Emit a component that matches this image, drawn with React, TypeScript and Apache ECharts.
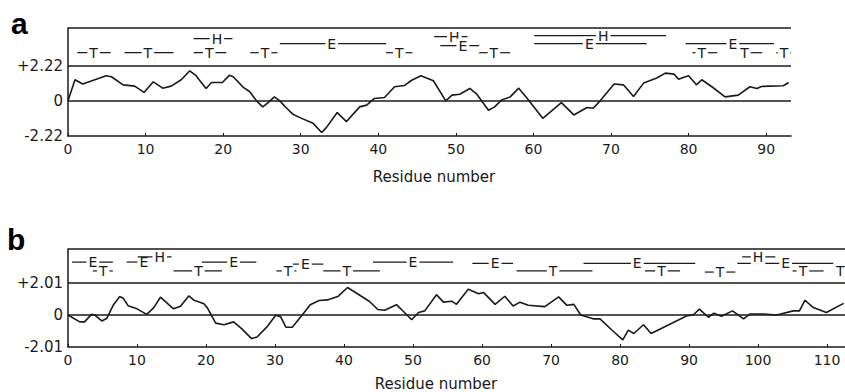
import React, { useEffect, useRef } from "react";
import * as echarts from "echarts";

// ---------- Panel a ----------
const resA = [0, 0.9, 1.9, 4.1, 4.9, 5.6, 7.1, 8.6, 9.8, 11,
  12.2, 13.3, 14.6, 15.7, 16.5, 17.8, 18.5, 19.9, 20.8, 21.3,
  22.6, 23.4, 24.3, 25.1, 25.8, 26.6, 27.3, 28.1, 29, 29.9,
  31.6, 32.7, 33.3, 34.7, 35.9, 37.6, 38.5, 39.5, 40.8, 42.1,
  43.4, 44.3, 45.5, 47.1, 48.7, 49.5, 50.5, 51.8, 52.7, 54.2,
  55, 55.9, 57, 58.1, 59.1, 61.2, 63.6, 65.2, 66.9, 67.7,
  68.6, 70.4, 71.6, 72.9, 74.2, 75.9, 77, 78.1, 78.7, 79.3,
  80, 81, 81.7, 83, 84.7, 86.4, 87.9, 88.8, 89.4, 92.2,
  92.9];
const hydA = [0, 1.33, 1.06, 1.44, 1.59, 1.52, 1.01, 0.93, 0.53, 1.2,
  0.8, 0.93, 1.33, 1.9, 1.59, 0.78, 1.16, 1.16, 1.61, 1.52,
  0.85, 0.59, 0, -0.38, -0.11, 0.25, 0, -0.42, -0.85, -1.06,
  -1.42, -2.0, -1.69, -0.74, -1.31, -0.38, -0.27, 0.15, 0.21, 0.89,
  0.97, 1.3, 1.59, 1.27, 0, 0.36, 0.42, 0.78, 0.42, -0.59,
  -0.38, 0.06, 0.25, 0.8, 0.21, -1.1, -0.11, -0.89, -0.42, -0.47,
  0, 1.06, 1.01, 0.27, 1.12, 1.44, 1.75, 1.69, 1.37, 1.48,
  1.59, 1.01, 1.33, 0.89, 0.25, 0.36, 0.89, 0.78, 0.91, 0.95,
  1.16];
const xTicksA = [0, 10, 20, 30, 40, 50, 60, 70, 80, 90];
const yTicksA = [-2.22, 0, 2.22];

// secondary structure segments, panel a
const segLetterA = ["T", "T", "T", "H", "T", "E", "T", "H", "E", "T", "H", "E", "E", "T", "T", "T"];
const segStartA = [1.2, 7.3, 16.2, 16.2, 23.5, 27.3, 41, 47.2, 48, 53, 60.1, 60.1, 79.6, 80.5, 86.5, 91.3];
const segEndA = [5.5, 13.6, 20.4, 21.2, 27, 41, 44.4, 51.5, 53, 57, 77.1, 74.6, 91, 83.7, 89.5, 93.2];
const segRowA = [3.04, 3.04, 3.04, 3.93, 3.04, 3.61, 3.04, 4.05, 3.49, 3.04, 4.12, 3.61, 3.61, 3.04, 3.04, 3.04];
const segMarkA = [3.3, 10.3, 18.2, 19.2, 25.4, 34, 42.7, 49.8, 50.9, 54.9, 69, 67.2, 85.7, 81.7, 87.2, 92.3];

// ---------- Panel b ----------
const resB = [0, 1.7, 2.4, 3.4, 3.9, 4.9, 5.6, 6.6, 7.5, 8,
  8.7, 10, 11.4, 12.4, 13.4, 14.6, 15.3, 16.3, 17.5, 18.2,
  19.7, 20.2, 21.4, 22.6, 24, 25.2, 26.6, 27.4, 28.9, 30.1,
  30.8, 31.6, 32.5, 34, 35.1, 36.4, 37.6, 39.1, 40.5, 42,
  43.7, 44.9, 45.9, 47.6, 48.8, 49.8, 50.8, 51.7, 53.4, 54.4,
  55.6, 56.3, 58, 59.5, 60.2, 61.9, 63.3, 64.5, 65.5, 66.7,
  69.1, 71.1, 72.3, 73.3, 74.3, 76.1, 77.1, 79, 80.4, 81.2,
  82, 83.4, 84.5, 89.7, 90.6, 91.5, 92.8, 93.6, 94.7, 96.3,
  97.9, 98.8, 100.8, 102.7, 105.1, 106, 106.8, 108, 109.9, 112.4];
const hydB = [0, -0.43, -0.43, 0.04, 0, -0.37, -0.22, 0.65, 1.16, 1.06,
  0.59, 0.39, 0.04, 0.45, 1.12, 0.65, 0.39, 0.55, 1.2, 0.95,
  0.71, 0.45, -0.51, -0.61, -0.43, -0.87, -1.48, -1.38, -0.71, -0.02,
  -0.1, -0.77, -0.77, 0.04, 0.65, 0.91, 0.95, 1.16, 1.73, 1.32,
  0.85, 0.35, 0.3, 0.65, 0.14, -0.3, 0.16, 0.26, 1.28, 0.81,
  0.87, 0.67, 1.62, 1.34, 1.42, 0.67, 1.18, 0.57, 0.81, 0.61,
  0.53, 1.14, 0.61, 0.67, 0, -0.24, -0.24, -1.02, -1.56, -0.95,
  -1.16, -0.61, -1.16, -0.04, 0, 0.37, -0.14, 0.12, -0.08, 0.26,
  -0.24, 0.06, 0.06, 0, 0.26, 0.26, 0.93, 0.47, 0.16, 0.73];
const xTicksB = [0, 10, 20, 30, 40, 50, 60, 70, 80, 90, 100, 110];
const yTicksB = [-2.01, 0, 2.01];

const segLetterB = ["E", "T", "E", "H", "T", "E", "T", "E", "T", "E", "E", "T", "E", "T", "T", "E", "H", "T", "T"];
const segStartB = [0.6, 3.6, 8.5, 10.1, 15.3, 19.4, 30.2, 32.6, 37, 44.2, 58.6, 65, 74.7, 83.6, 92.3, 97, 97.7, 105, 111.2];
const segEndB = [6.5, 6.5, 11.9, 15, 22.3, 27.3, 33.1, 37, 45.2, 55.8, 64.5, 76, 90.9, 88.7, 96.7, 110.9, 102.5, 109.5, 112.6];
const segRowB = [3.33, 2.77, 3.33, 3.65, 2.77, 3.33, 2.77, 3.2, 2.77, 3.33, 3.25, 2.77, 3.25, 2.77, 2.7, 3.25, 3.65, 2.77, 2.77];
const segMarkB = [3.6, 5.1, 11, 13.3, 18.9, 24, 31.9, 34.4, 40.4, 50, 61.9, 70.3, 82.5, 86, 94.5, 104, 100, 106.5, 111.9];

const INK = "#1a1a1a";
const FONT = "DejaVu Sans";

function segSeries(idx: number, letters: string[], s: number[], e: number[], r: number[], m: number[]) {
  return {
    type: "custom",
    xAxisIndex: idx,
    yAxisIndex: idx,
    silent: true,
    clip: false,
    data: s.map((v, i) => [v, e[i], r[i], m[i]]),
    encode: { x: [0, 1, 3], y: 2 },
    renderItem: (params: any, api: any) => {
      const a = api.coord([api.value(0), api.value(2)]);
      const b = api.coord([api.value(1), api.value(2)]);
      const c = api.coord([api.value(3), api.value(2)]);
      return {
        type: "group",
        children: [
          {
            type: "line",
            shape: { x1: a[0], y1: a[1], x2: b[0], y2: b[1] },
            style: { stroke: INK, lineWidth: 1.2 },
          },
          {
            type: "text",
            x: c[0],
            y: c[1],
            style: {
              text: letters[params.dataIndex],
              fill: INK,
              stroke: "none",
              lineWidth: 0,
              fontSize: 14,
              fontFamily: FONT,
              align: "center",
              verticalAlign: "middle",
              backgroundColor: "#fff",
              padding: [0, 2],
            },
          },
        ],
      };
    },
  };
}

function yFmt(v: number) {
  if (Math.abs(v) < 1e-9) return "0";
  return v > 0 ? "+" + v.toFixed(2) : v.toFixed(2);
}

export default function App() {
  const ref = useRef<HTMLDivElement>(null);
  useEffect(() => {
    if (!ref.current) return;
    const chart = echarts.init(ref.current, undefined, { renderer: "svg" });
    const axisLineStyle = { color: INK, width: 1.5 };
    const xAxisBase = (gi: number, max: number, ticks: number[]) => ({
      gridIndex: gi,
      type: "value",
      min: 0,
      max,
      axisLine: { show: true, onZero: false, lineStyle: axisLineStyle },
      axisTick: { show: true, inside: true, length: 3, customValues: ticks, lineStyle: { color: INK } },
      axisLabel: { customValues: ticks, color: INK, fontSize: 14, fontFamily: FONT, margin: 6 },
      splitLine: { show: false },
    });
    const yAxisBase = (gi: number, min: number, max: number, ticks: number[]) => ({
      gridIndex: gi,
      type: "value",
      min,
      max,
      axisLine: { show: true, onZero: false, lineStyle: axisLineStyle },
      axisTick: { show: false },
      axisLabel: { customValues: ticks, color: INK, fontSize: 15, fontFamily: FONT, margin: 5, formatter: yFmt },
      splitLine: { show: false },
    });
    const refLines = (vals: number[]) => ({
      silent: true,
      symbol: ["none", "none"],
      label: { show: false },
      lineStyle: { color: INK, width: 1.5, type: "solid" },
      data: vals.map((v) => ({ yAxis: v })),
    });
    const maxA = 4.6;
    const maxB = 4.15;
    chart.setOption({
      animation: false,
      backgroundColor: "#fff",
      grid: [
        { left: 68, top: 28, width: 723, height: 108 },
        { left: 68, top: 249, width: 777, height: 98 },
      ],
      xAxis: [xAxisBase(0, 93.2, xTicksA), xAxisBase(1, 112.6, xTicksB)],
      yAxis: [yAxisBase(0, -2.22, maxA, yTicksA), yAxisBase(1, -2.01, maxB, yTicksB)],
      graphic: [
        { type: "text", left: 11, top: 8, style: { text: "a", fontSize: 30, fontWeight: "bold", fontFamily: "Liberation Sans", fill: "#000" } },
        { type: "text", left: 7, top: 224, style: { text: "b", fontSize: 30, fontWeight: "bold", fontFamily: "Liberation Sans", fill: "#000" } },
        { type: "text", x: 434, y: 177, style: { text: "Residue number", fontSize: 15, fontFamily: FONT, fill: INK, align: "center", verticalAlign: "middle" } },
        { type: "text", x: 436, y: 384, style: { text: "Residue number", fontSize: 15, fontFamily: FONT, fill: INK, align: "center", verticalAlign: "middle" } },
      ],
      series: [
        {
          type: "line",
          xAxisIndex: 0,
          yAxisIndex: 0,
          data: resA.map((x, i) => [x, hydA[i]]),
          showSymbol: false,
          lineStyle: { color: INK, width: 1.6 },
          markLine: refLines([0, 2.22, maxA]),
          z: 3,
        },
        {
          type: "line",
          xAxisIndex: 1,
          yAxisIndex: 1,
          data: resB.map((x, i) => [x, hydB[i]]),
          showSymbol: false,
          lineStyle: { color: INK, width: 1.6 },
          markLine: refLines([0, 2.01, maxB]),
          z: 3,
        },
        segSeries(0, segLetterA, segStartA, segEndA, segRowA, segMarkA),
        segSeries(1, segLetterB, segStartB, segEndB, segRowB, segMarkB),
      ],
    });
    return () => chart.dispose();
  }, []);
  return <div ref={ref} style={{ position: "fixed", left: 0, top: 0, width: 845, height: 392 }} />;
}
